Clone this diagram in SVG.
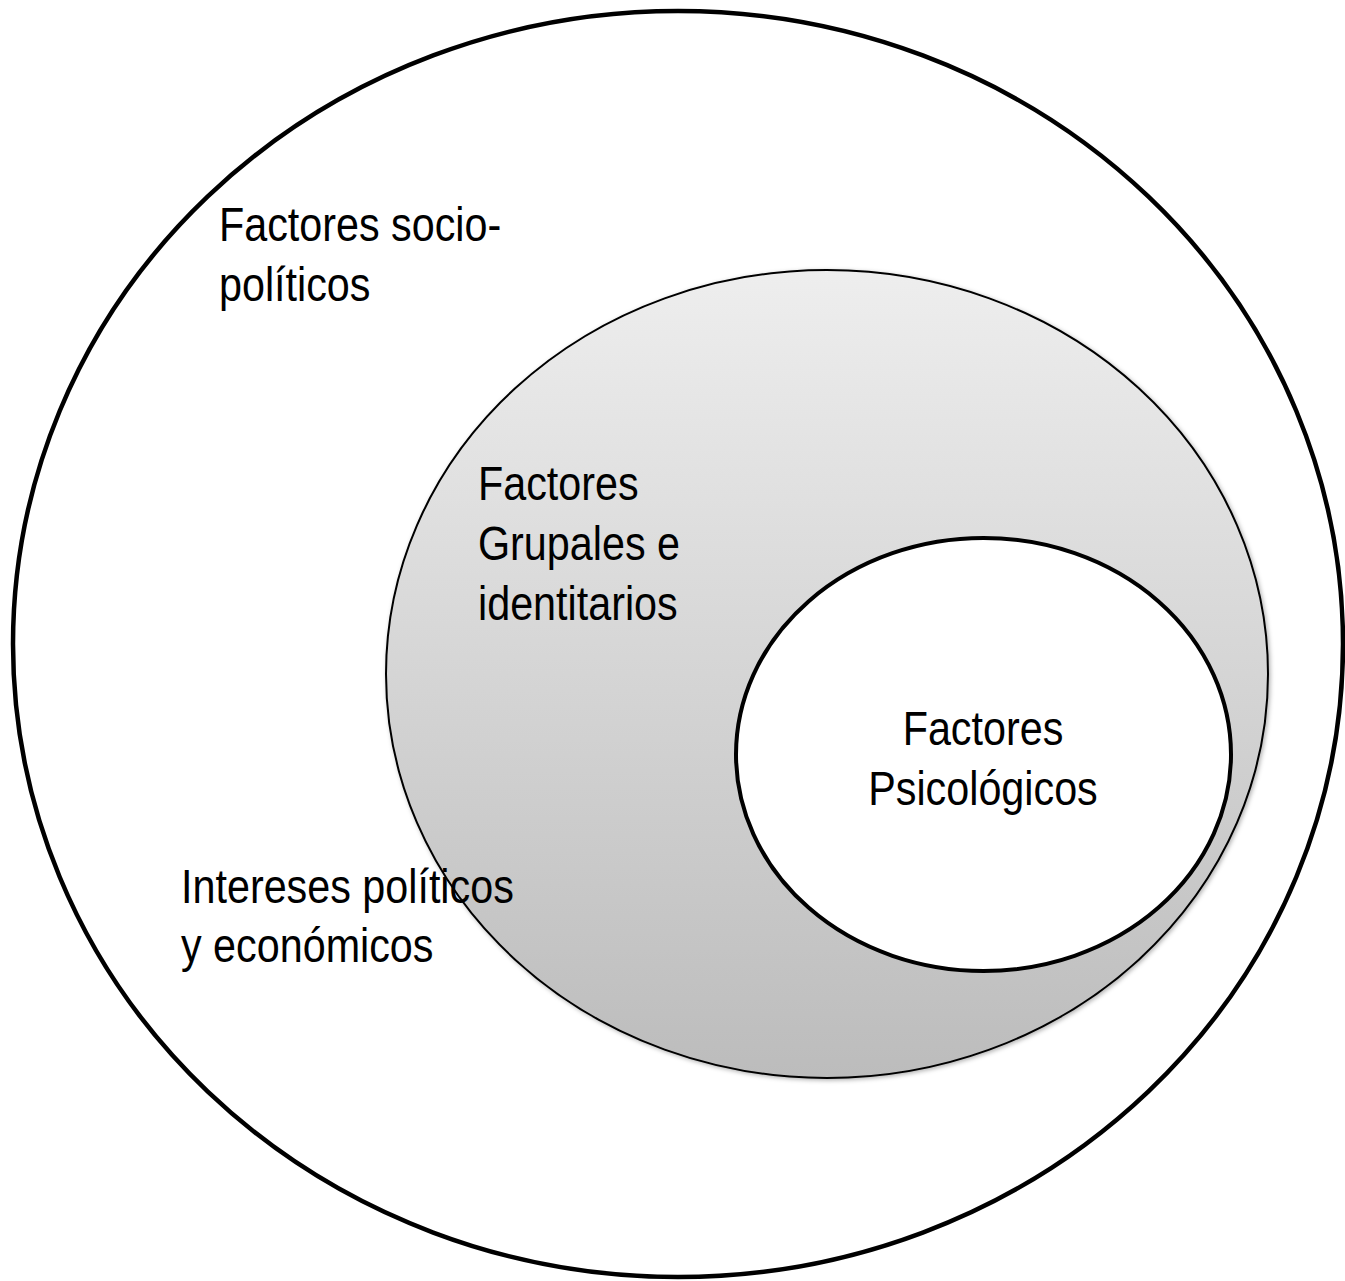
<svg xmlns="http://www.w3.org/2000/svg" width="1345" height="1281" viewBox="0 0 1345 1281">
<style>
.lbl{font-family:"Liberation Sans",Arial,sans-serif;font-size:41.3px;fill:#000}
</style>
<defs>
<linearGradient id="g" x1="0" y1="0" x2="0" y2="1">
<stop offset="0" stop-color="#eeeeee"/>
<stop offset="1" stop-color="#bcbcbc"/>
</linearGradient>
<filter id="sh" x="-5%" y="-5%" width="110%" height="110%">
<feDropShadow dx="1.5" dy="1.5" stdDeviation="2" flood-color="#000" flood-opacity="0.3"/>
</filter>
</defs>
<rect width="1345" height="1281" fill="#fff"/>
<g id="outer">
<ellipse cx="678" cy="644" rx="665" ry="633" fill="#fff" stroke="#000" stroke-width="4.5"/>
<g transform="translate(219,241) scale(1,1.16)"><text class="lbl" x="0" y="0">Factores socio-</text><text class="lbl" x="0" y="51.7">políticos</text></g>
</g>
<g id="middle">
<ellipse cx="827" cy="674" rx="441" ry="404" fill="url(#g)" stroke="#000" stroke-width="2" filter="url(#sh)"/>
<g transform="translate(478,500) scale(1,1.16)"><text class="lbl" x="0" y="0">Factores</text><text class="lbl" x="0" y="51.7">Grupales e</text><text class="lbl" x="0" y="103.4">identitarios</text></g>
</g>
<g id="inner">
<ellipse cx="983.5" cy="754.5" rx="247.5" ry="216.5" fill="#fff" stroke="#000" stroke-width="4"/>
<g transform="translate(983,745) scale(1,1.16)"><text class="lbl" x="0" y="0" text-anchor="middle">Factores</text><text class="lbl" x="0" y="51.7" text-anchor="middle">Psicológicos</text></g>
</g>
<g id="outer-label-intereses">
<g transform="translate(181,903) scale(1,1.16)"><text class="lbl" x="0" y="0">Intereses políticos</text><text class="lbl" x="0" y="51.3">y económicos</text></g>
</g>
<g id="connectors"/>
</svg>
